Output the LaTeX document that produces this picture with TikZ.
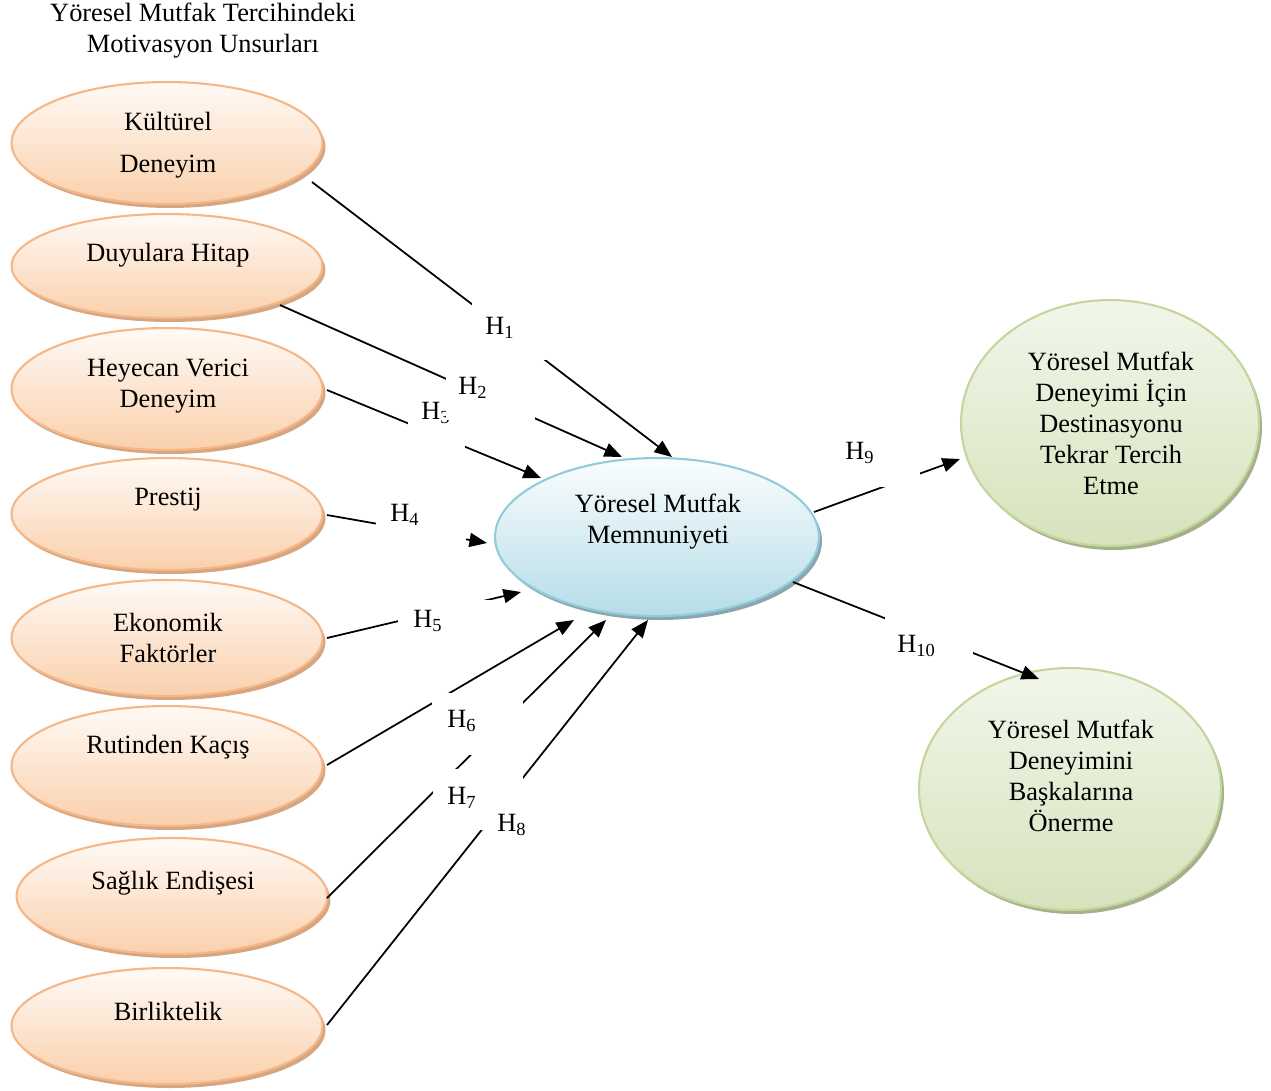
\documentclass[tikz,border=0pt]{standalone}
\usepackage{fontspec}
\setmainfont{Liberation Serif}
\usetikzlibrary{shapes.geometric,shadows,arrows.meta,calc}
\definecolor{orBorder}{RGB}{245,182,136}
\definecolor{orTop}{RGB}{255,250,246}
\definecolor{orBot}{RGB}{250,208,172}
\definecolor{orShadow}{RGB}{214,166,128}
\definecolor{blBorder}{RGB}{146,204,220}
\definecolor{blTop}{RGB}{250,253,254}
\definecolor{blBot}{RGB}{182,221,232}
\definecolor{blShadow}{RGB}{140,166,174}
\definecolor{grBorder}{RGB}{196,214,155}
\definecolor{grTop}{RGB}{242,246,235}
\definecolor{grBot}{RGB}{214,227,188}
\definecolor{grShadow}{RGB}{165,176,140}
\tikzset{
  oval/.style={ellipse, inner sep=0pt, line width=1.2pt},
  orange/.style={oval, draw=orBorder, top color=orTop, bottom color=orBot,
    general shadow={fill=orShadow, shadow xshift=0.06cm, shadow yshift=-0.08cm}},
  blue/.style={oval, draw=blBorder, top color=blTop, bottom color=blBot,
    general shadow={fill=blShadow, shadow xshift=0.06cm, shadow yshift=-0.08cm}},
  green/.style={oval, draw=grBorder, top color=grTop, bottom color=grBot,
    general shadow={fill=grShadow, shadow xshift=0.06cm, shadow yshift=-0.08cm}},
  txt/.style={align=center, inner sep=0pt},
  hbox/.style={fill=white, anchor=north west, inner sep=0pt, align=left},
  conn/.style={line width=1pt, -{Triangle[length=10pt,width=8pt]}},
}
\begin{document}
\begin{tikzpicture}[x=0.02cm, y=-0.02cm, font=\fontsize{15}{17.6}\selectfont]
\useasboundingbox (0,0) rectangle (1271,1090);

% title
\node[txt] (title) at (203,31) {Yöresel Mutfak Tercihindeki\\Motivasyon Unsurları};

% left ellipses
\node[orange, minimum width=6.22cm, minimum height=2.44cm] (e1) at (167,143) {};
\node[orange, minimum width=6.22cm, minimum height=2.08cm] (e2) at (167,266) {};
\node[orange, minimum width=6.22cm, minimum height=2.44cm] (e3) at (167,389) {};
\node[orange, minimum width=6.22cm, minimum height=2.24cm] (e4) at (167,514) {};
\node[orange, minimum width=6.22cm, minimum height=2.32cm] (e5) at (167,638) {};
\node[orange, minimum width=6.22cm, minimum height=2.40cm] (e6) at (167,766) {};
\node[orange, minimum width=6.22cm, minimum height=2.32cm] (e7) at (172,896) {};
\node[orange, minimum width=6.22cm, minimum height=2.32cm] (e8) at (167,1026) {};

\node[txt] (t1) at (168,145) {Kültürel\\[6.4pt]Deneyim};
\node[txt] (t2) at (168,255) {Duyulara Hitap};
\node[txt] (t3) at (168,386) {Heyecan Verici\\Deneyim};
\node[txt] (t4) at (168,500) {Prestij};
\node[txt] (t5) at (168,638) {Ekonomik\\Faktörler};
\node[txt] (t6) at (168,747) {Rutinden Kaçış};
\node[txt] (t7) at (173,883) {Sağlık Endişesi};
\node[txt] (t8) at (168,1011) {Birliktelik};

% centre
\node[blue, minimum width=6.48cm, minimum height=3.16cm] (b) at (657,537) {};
\node[txt] (tb) at (658,522) {Yöresel Mutfak\\Memnuniyeti};

% right
\node[green, minimum width=5.96cm, minimum height=4.92cm] (g1) at (1110,423) {};
\node[txt] (tg1) at (1111,423) {Yöresel Mutfak\\Deneyimi İçin\\Destinasyonu\\Tekrar Tercih\\Etme};
\node[green, minimum width=6.04cm, minimum height=4.84cm] (g2) at (1070,789) {};
\node[txt] (tg2) at (1071,776) {Yöresel Mutfak\\Deneyimini\\Başkalarına\\Önerme};

% connectors
\draw[conn] ($(e1.center)+(145,39)$) -- ($(b.center)+(15,-80)$);
\draw[conn] ($(e2.center)+(113,39)$) -- ($(b.center)+(-35,-80)$);
\draw[conn] ($(e3.center)+(160,1)$) -- ($(b.center)+(-116,-59)$);
\draw[conn] ($(e4.center)+(160,1)$) -- ($(b.center)+(-170,6)$);
\draw[conn] ($(e5.center)+(160,0)$) -- ($(b.center)+(-136,55)$);
\draw[conn] ($(e6.center)+(160,-1)$) -- ($(b.center)+(-83,83)$);
\draw[conn] ($(e7.center)+(155,2)$) -- ($(b.center)+(-51,83)$);
\draw[conn] ($(e8.center)+(160,-1)$) -- ($(b.center)+(-9,83)$);
\draw[conn] ($(b.center)+(157,-25)$) -- ($(g1.center)+(-150,36)$);
\draw[conn] ($(b.center)+(136,45)$) -- ($(g2.center)+(-31,-110)$);

% hypothesis label boxes
\node[hbox, text width=1.14cm, text height=0.58cm, text depth=0.62cm] (h3) at (408,390) {\hspace*{0.26cm}H\textsubscript{3}};
\node[hbox, text width=1.78cm, text height=0.58cm, text depth=0.52cm] (h2) at (446,365) {\hspace*{0.24cm}H\textsubscript{2}};
\node[hbox, text width=1.48cm, text height=0.62cm, text depth=0.52cm] (h1) at (472,303) {\hspace*{0.26cm}H\textsubscript{1}};
\node[hbox, text width=1.80cm, text height=0.62cm, text depth=0.48cm] (h4) at (376,490) {\hspace*{0.28cm}H\textsubscript{4}};
\node[hbox, text width=2.04cm, text height=0.54cm, text depth=0.46cm] (h5) at (398,600) {\hspace*{0.30cm}H\textsubscript{5}};
\node[hbox, text width=1.82cm, text height=0.68cm, text depth=0.56cm] (h6) at (432,693) {\hspace*{0.30cm}H\textsubscript{6}};
\node[hbox, text width=1.80cm, text height=0.70cm, text depth=0.52cm] (h7) at (433,769) {\hspace*{0.28cm}H\textsubscript{7}};
\node[hbox, text width=1.00cm, text height=0.58cm, text depth=0.32cm] (h8) at (485,802) {\hspace*{0.24cm}H\textsubscript{8}};
\node[hbox, text width=1.76cm, text height=0.62cm, text depth=0.56cm] (h9) at (832,428) {\hspace*{0.26cm}H\textsubscript{9}};
\node[hbox, text width=1.76cm, text height=0.74cm, text depth=0.16cm] (h10) at (885,615) {\hspace*{0.24cm}H\textsubscript{10}};
\end{tikzpicture}
\end{document}
